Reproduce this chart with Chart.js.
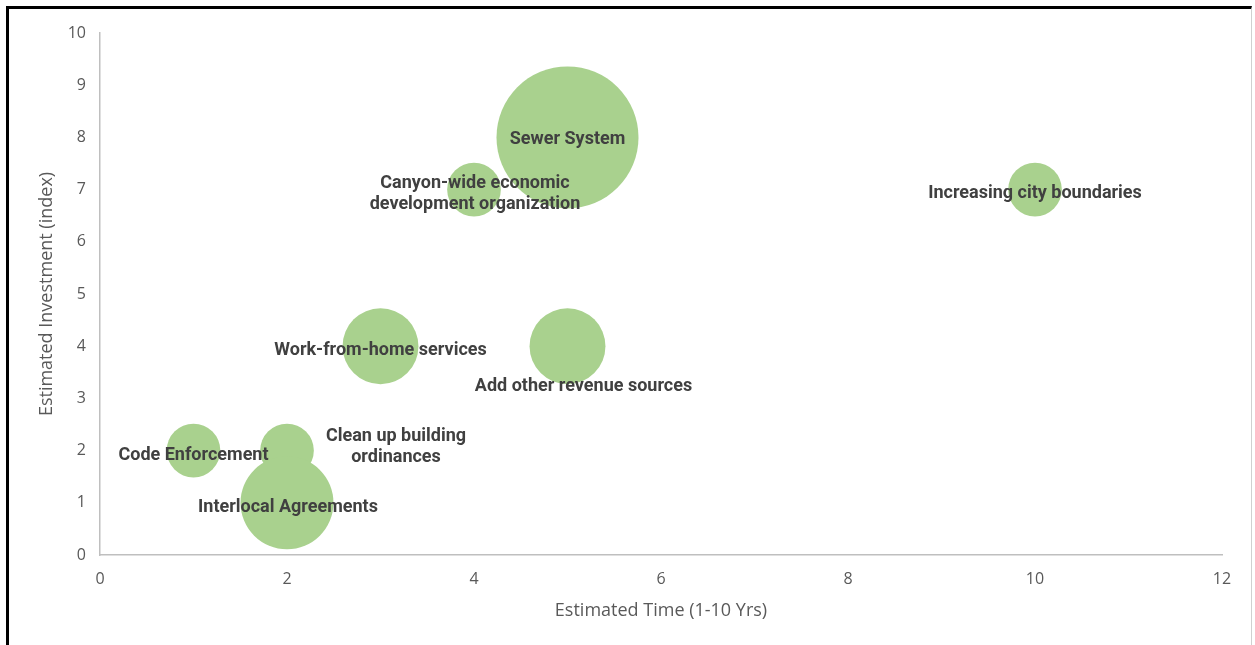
<!DOCTYPE html>
<html>
<head>
<meta charset="utf-8">
<script src="https://cdn.jsdelivr.net/npm/chart.js@4"></script>
<style>
  html, body { margin: 0; padding: 0; background: #ffffff; }
  #wrap { position: relative; width: 1255px; height: 645px; overflow: hidden; }
  #frame { position: absolute; left: 6px; top: 6px; width: 1246px; height: 700px;
           border-left: 3px solid #000; border-top: 3px solid #000; border-right: 1px solid #d0d0d0;
           box-sizing: border-box; pointer-events: none; }
  canvas { position: absolute; left: 0; top: 0; }
</style>
</head>
<body>
<div id="wrap">
  <canvas id="c" width="1255" height="645"></canvas>
  <div id="frame"></div>
</div>
<script>
// ---- data ----
const labels = [
  "Sewer System",
  "Canyon-wide economic\ndevelopment organization",
  "Increasing city boundaries",
  "Work-from-home services",
  "Add other revenue sources",
  "Code Enforcement",
  "Clean up building\nordinances",
  "Interlocal Agreements"
];
const timeYears = [5, 4, 10, 3, 5, 1, 2, 2];
const investment = [8, 7, 7, 4, 4, 2, 2, 1];
const bubbleSize = [7, 1, 1, 2, 2, 1, 1, 3];
const xTicks = [0, 2, 4, 6, 8, 10, 12];
const yTicks = [0, 1, 2, 3, 4, 5, 6, 7, 8, 9, 10];

// ---- styling ----
const maxRadius = 71;
const maxSize = Math.max(...bubbleSize);
// label placement offsets (px) relative to bubble centre
const labelOffset = [[0,2.5],[1,4.5],[0,3.5],[0,4],[16,40.5],[0,4.5],[109,-3.5],[1,4.5]];

const points = timeYears.map((x, i) => ({
  x: x, y: investment[i], r: maxRadius * Math.sqrt(bubbleSize[i] / maxSize)
}));

const labelPlugin = {
  id: 'bubbleLabels',
  afterDatasetsDraw(chart) {
    const ctx = chart.ctx;
    const meta = chart.getDatasetMeta(0);
    ctx.save();
    ctx.font = 'bold 18px Roboto';
    ctx.fillStyle = '#404040';
    ctx.textAlign = 'center';
    ctx.textBaseline = 'middle';
    const lh = 21;
    meta.data.forEach((el, i) => {
      const lines = labels[i].split('\n');
      const cx = el.x + labelOffset[i][0];
      const cy = el.y + labelOffset[i][1];
      const start = cy - (lines.length - 1) * lh / 2;
      lines.forEach((ln, j) => ctx.fillText(ln, cx, start + j * lh));
    });
    ctx.restore();
  }
};

new Chart(document.getElementById('c'), {
  type: 'bubble',
  data: {
    datasets: [{
      data: points,
      backgroundColor: '#a9d18e',
      borderWidth: 0,
      hoverBorderWidth: 0
    }]
  },
  options: {
    responsive: false,
    animation: false,
    events: [],
    layout: { autoPadding: false, padding: { left: 0, top: 33, right: 33, bottom: 0 } },
    plugins: { legend: { display: false }, tooltip: { enabled: false } },
    scales: {
      x: {
        type: 'linear', min: 0, max: 12,
        afterBuildTicks: (s) => { s.ticks = xTicks.map(v => ({ value: v })); },
        afterFit: (s) => { s.height = 90; },
        grid: { display: false, drawTicks: false },
        border: { display: true, color: '#bfbfbf', width: 1.5 },
        ticks: { color: '#595959', font: { family: 'Open Sans', size: 16 }, padding: 15 },
        title: { display: true, text: 'Estimated Time (1-10 Yrs)', color: '#595959',
                 font: { family: 'Open Sans', size: 18 }, padding: { top: 0, bottom: 23 } }
      },
      y: {
        type: 'linear', min: 0, max: 10,
        afterBuildTicks: (s) => { s.ticks = yTicks.map(v => ({ value: v })); },
        afterFit: (s) => { s.width = 100; },
        grid: { display: false, drawTicks: false },
        border: { display: true, color: '#bfbfbf', width: 1.5 },
        ticks: { color: '#595959', font: { family: 'Open Sans', size: 16 }, padding: 14 },
        title: { display: true, text: 'Estimated Investment (index)', color: '#595959',
                 font: { family: 'Open Sans', size: 18 }, padding: { top: 36, bottom: 0 } }
      }
    }
  },
  plugins: [labelPlugin]
});
</script>
</body>
</html>
